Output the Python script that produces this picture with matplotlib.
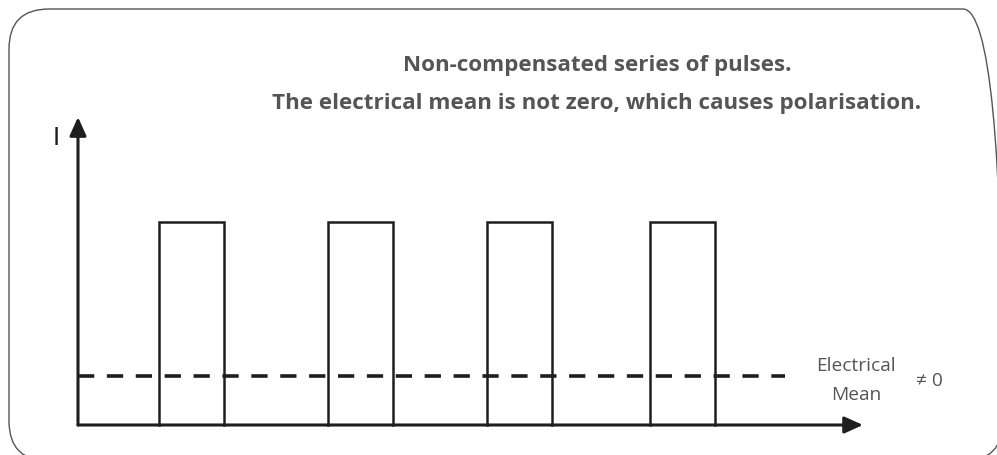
import matplotlib
matplotlib.use("Agg")
import matplotlib.pyplot as plt
from matplotlib.patches import FancyBboxPatch
from matplotlib.transforms import IdentityTransform

# pulse train (time units, current units)
pulse_starts = [0.81, 2.50, 4.09, 5.72]
pulse_width = 0.65
pulse_height = 1.0
mean_level = 0.24
t_axis_end = 7.85
i_axis_end = 1.517
mean_end = 7.07

title_lines = ["Non-compensated series of pulses.",
               "The electrical mean is not zero, which causes polarisation."]
mean_label = ["Electrical", "Mean"]
mean_value = "\u2260 0"
y_label = "I"

DARK = "#1e1e1e"
TEXT = "#555555"
FONT = ["Open Sans", "DejaVu Sans"]

fig = plt.figure(figsize=(9.97, 4.56), dpi=100)
ax = fig.add_axes([0, 0, 1, 1])
ax.set_xlim(-0.78, 9.19)
ax.set_ylim(-0.1478, 2.0985)
ax.axis("off")

# rounded frame, in pixels
frame = FancyBboxPatch((9, -6), 994, 452, boxstyle="round,pad=0,rounding_size=40",
                       transform=IdentityTransform(), fill=False, ec="#555555", lw=1.0)
fig.patches.append(frame)

# axes arrows
arrow = dict(arrowstyle="-|>,head_length=0.4,head_width=0.18", mutation_scale=28,
             lw=2.2, color=DARK, shrinkA=0, shrinkB=0)
ax.annotate("", xy=(t_axis_end, 0), xytext=(0, 0), arrowprops=arrow)
ax.annotate("", xy=(0, i_axis_end), xytext=(0, 0), arrowprops=arrow)

# pulses
for s in pulse_starts:
    ax.plot([s, s, s + pulse_width, s + pulse_width], [0, pulse_height, pulse_height, 0],
            color=DARK, lw=1.8, solid_joinstyle="miter")

# electrical mean
ax.plot([0, mean_end], [mean_level, mean_level], color=DARK, lw=2.6,
        dashes=(4.5, 3.5))

ax.text(-0.22, 1.42, y_label, fontsize=17, color=DARK,
        ha="center", va="center", family="DejaVu Sans")

ax.text(7.78, 0.296, mean_label[0], fontsize=13.8, color=TEXT, ha="center",
        va="center", family=FONT)
ax.text(7.78, 0.153, mean_label[1], fontsize=13.8, color=TEXT, ha="center",
        va="center", family=FONT)
ax.text(8.51, 0.222, mean_value, fontsize=13.8, color=TEXT, ha="center",
        va="center", family=FONT)

t1 = ax.text(5.19, 1.776, title_lines[0], fontsize=13.5, fontweight="bold", color=TEXT,
             ha="center", va="center", family=FONT)
t2 = ax.text(5.19, 1.588, title_lines[1], fontsize=13.5, fontweight="bold", color=TEXT,
             ha="center", va="center", family=FONT)

# size the title so the long line spans about 649 px as in the reference
r = fig.canvas.get_renderer()
w = t2.get_window_extent(renderer=r).width
size = 13.5 * 649 / w
t1.set_fontsize(size)
t2.set_fontsize(size)

fig.savefig("out.png", dpi=100)
